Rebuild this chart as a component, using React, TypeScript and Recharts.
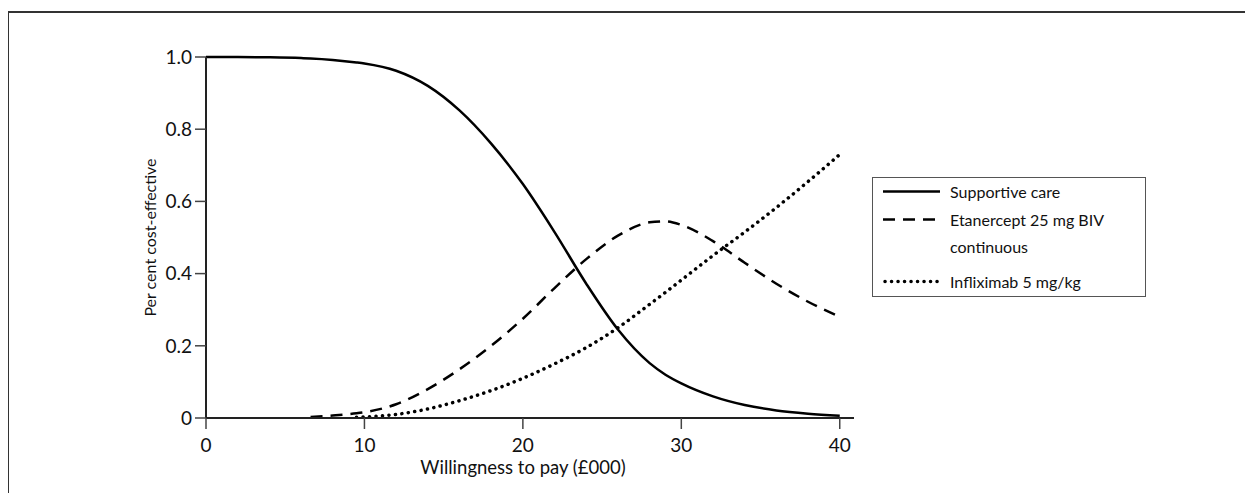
import { LineChart, Line, XAxis, YAxis } from "recharts";

const wtp = [0, 2, 4, 6, 6.6, 8, 9.5, 10, 12, 14, 16, 18, 20, 22, 24, 26, 28, 29, 30, 32, 34, 36, 38, 40];
const supportive = [1.0, 1.0, 0.999, 0.997, 0.996, 0.992, 0.985, 0.982, 0.962, 0.92, 0.852, 0.76, 0.648, 0.515, 0.372, 0.245, 0.152, 0.12, 0.096, 0.06, 0.036, 0.021, 0.012, 0.006];
const etanercept = [null, null, null, null, 0.003, 0.007, 0.013, 0.016, 0.038, 0.08, 0.135, 0.2, 0.275, 0.36, 0.44, 0.505, 0.542, 0.545, 0.535, 0.49, 0.43, 0.372, 0.322, 0.28];
const infliximab = [null, null, null, null, null, null, 0.002, 0.003, 0.01, 0.025, 0.048, 0.076, 0.11, 0.15, 0.195, 0.25, 0.315, 0.348, 0.382, 0.45, 0.515, 0.583, 0.655, 0.73];

const xTicks = [0, 10, 20, 30, 40];
const yTicks = [0, 0.2, 0.4, 0.6, 0.8, 1.0];

const series = [
  { key: "supportive", name: "Supportive care", dash: undefined, cap: "butt", gap: 1 },
  { key: "etanercept", name: "Etanercept 25 mg BIV continuous", dash: "12 8", cap: "butt", gap: 8 },
  { key: "infliximab", name: "Infliximab 5 mg/kg", dash: "0.1 6.4", cap: "round", gap: 0 },
];

const data = wtp.map((x, i) => ({
  x,
  supportive: supportive[i],
  etanercept: etanercept[i],
  infliximab: infliximab[i],
}));

const font = "Lato, 'Open Sans', sans-serif";

function LegendBox() {
  return (
    <div
      style={{
        position: "absolute",
        left: 864,
        top: 169,
        width: 274,
        border: "1.5px solid #555",
        background: "#fff",
        fontFamily: font,
        fontSize: 16,
        color: "#111",
        padding: "0 0 0.5px 0",
        boxSizing: "border-box",
      }}
    >
      {series.map((s) => (
        <div key={s.key} style={{ display: "flex", alignItems: "flex-start", marginBottom: s.gap }}>
          <svg width={77} height={27} style={{ flex: "none" }}>
            <line
              x1={s.cap === "round" ? 12 : 10}
              x2={67}
              y1={13.5}
              y2={13.5}
              stroke="#000"
              strokeWidth={s.cap === "round" ? 3.5 : 2.5}
              strokeDasharray={s.dash}
              strokeLinecap={s.cap as any}
            />
          </svg>
          <div style={{ width: 185, lineHeight: "27px" }}>{s.name}</div>
        </div>
      ))}
    </div>
  );
}

export default function App() {
  return (
    <div style={{ position: "relative", width: 1245, height: 485 }}>
      <div
        style={{
          position: "absolute",
          left: -1,
          top: 3,
          width: 1246,
          height: 482,
          borderTop: "2px solid #333",
          borderLeft: "2px solid #333",
          boxSizing: "border-box",
        }}
      />
      <LineChart
        width={1245}
        height={485}
        data={data}
        margin={{ top: 49, right: 399, bottom: 0, left: 0 }}
      >
        <XAxis
          dataKey="x"
          type="number"
          domain={[0, 40.9]}
          ticks={xTicks}
          stroke="#222"
          strokeWidth={2}
          tickSize={11}
          tickMargin={10}
          tick={{ fontSize: 19, fill: "#111", fontFamily: font }}
          tickLine={{ stroke: "#444", strokeWidth: 1.5 }}
          height={75}
          label={{
            value: "Willingness to pay (£000)",
            position: "insideBottom",
            offset: 19,
            dx: -7,
            style: { fontSize: 18.5, fill: "#111", fontFamily: font },
          }}
        />
        <YAxis
          type="number"
          domain={[0, 1]}
          ticks={yTicks}
          tickFormatter={(v: number) => (v === 0 ? "0" : v.toFixed(1))}
          stroke="#222"
          strokeWidth={2}
          tickSize={11}
          tickMargin={3}
          width={198}
          tick={{ fontSize: 19, fill: "#111", fontFamily: font }}
          tickLine={{ stroke: "#444", strokeWidth: 1.5 }}
          label={{
            value: "Per cent cost-effective",
            angle: -90,
            position: "insideLeft",
            offset: 142,
            style: { fontSize: 16, fill: "#111", fontFamily: font, textAnchor: "middle" },
          }}
        />
        {series.map((s) => (
          <Line
            key={s.key}
            dataKey={s.key}
            name={s.name}
            type="monotone"
            stroke="#000"
            strokeWidth={s.cap === "round" ? 3.5 : 2.5}
            strokeDasharray={s.dash}
            strokeLinecap={s.cap as any}
            dot={false}
            activeDot={false}
            isAnimationActive={false}
          />
        ))}
      </LineChart>
      <LegendBox />
    </div>
  );
}
